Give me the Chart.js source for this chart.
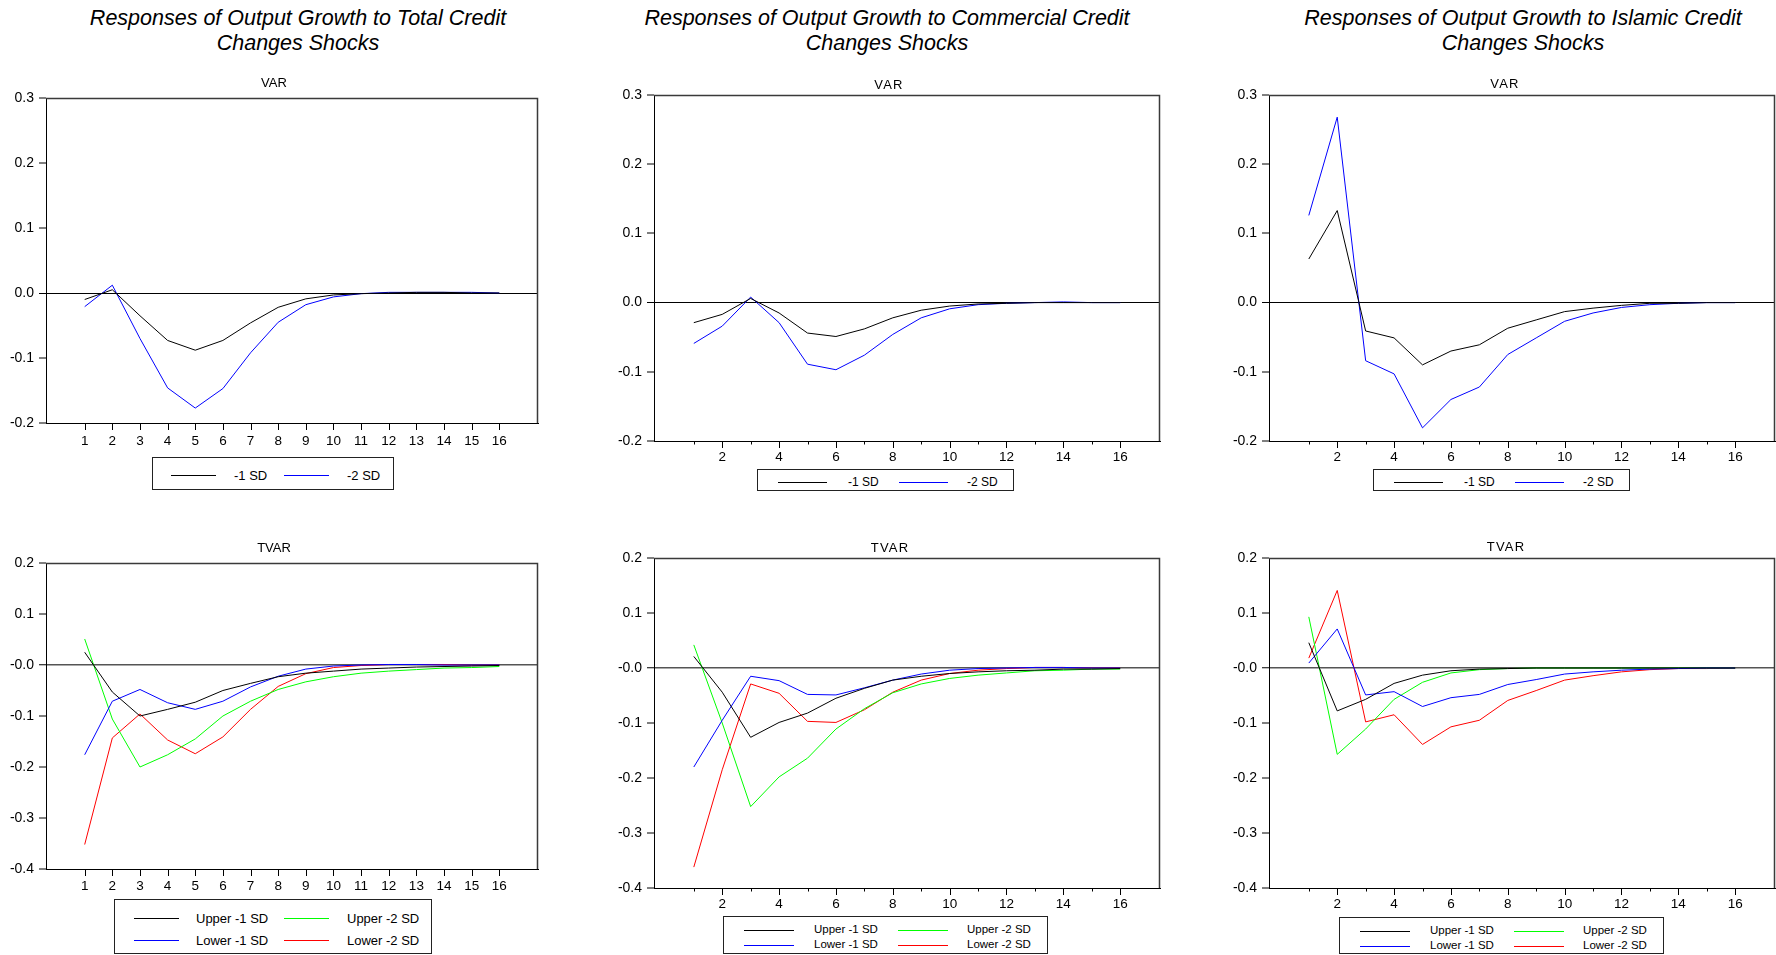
<!DOCTYPE html>
<html>
<head>
<meta charset="utf-8">
<title>Responses of Output Growth to Credit Changes Shocks</title>
<script src="https://cdn.jsdelivr.net/npm/chart.js@4.4.1/dist/chart.umd.min.js"></script>
<style>
  html, body { margin: 0; padding: 0; background: #fff; }
  body { position: relative; width: 1776px; height: 955px; overflow: hidden;
         font-family: "Liberation Sans", Arial, sans-serif; color: #000; }
  .main-title { position: absolute; width: 600px; text-align: center; font-style: italic;
                font-size: 21.5px; line-height: 25px; white-space: nowrap; }
  .sub-title { position: absolute; font-size: 13px; line-height: 15px; white-space: nowrap;
               transform: translate(-50%, -50%); }
  .legend { position: absolute; box-sizing: border-box; border: 1.5px solid #222; background: #fff; }
  .legend .sample { position: absolute; height: 0; border-top: 1px solid #000; }
  .legend .txt { position: absolute; white-space: nowrap; transform: translateY(-50%); line-height: 1; }
</style>
</head>
<body>
<script>
// ---- horizons and axis tick labels ----
const horizons = [1, 2, 3, 4, 5, 6, 7, 8, 9, 10, 11, 12, 13, 14, 15, 16];
const xTickLabelsAll  = ['1','2','3','4','5','6','7','8','9','10','11','12','13','14','15','16'];
const xTickLabelsEven = ['','2','','4','','6','','8','','10','','12','','14','','16'];

const varYTickValues  = [-0.2, -0.1, 0, 0.1, 0.2, 0.3];
const varYTickLabels  = ['-0.2', '-0.1', '0.0', '0.1', '0.2', '0.3'];
const tvarYTickValues = [-0.4, -0.3, -0.2, -0.1, 0, 0.1, 0.2];
const tvarYTickLabels = ['-0.4', '-0.3', '-0.2', '-0.1', '-0.0', '0.1', '0.2'];

// ---- panel headings ----
const columnTitles = [
  ['Responses of Output Growth to Total Credit', 'Changes Shocks'],
  ['Responses of Output Growth to Commercial Credit', 'Changes Shocks'],
  ['Responses of Output Growth to Islamic Credit', 'Changes Shocks']
];
const modelNames = ['VAR', 'TVAR'];

// ---- series labels ----
const varSeriesLabels  = ['-1 SD', '-2 SD'];
const tvarSeriesLabels = ['Upper -1 SD', 'Lower -1 SD', 'Upper -2 SD', 'Lower -2 SD'];

// ---- VAR impulse responses ----
const totalVarMinus1 = [-0.010, 0.005, -0.035, -0.073, -0.088, -0.073, -0.046, -0.022, -0.009, -0.003, -0.001, 0.000, 0.001, 0.001, 0.000, 0.000];
const totalVarMinus2 = [-0.021, 0.012, -0.070, -0.146, -0.177, -0.147, -0.092, -0.045, -0.018, -0.006, -0.001, 0.001, 0.001, 0.001, 0.001, 0.000];

const commercialVarMinus1 = [-0.029, -0.017, 0.006, -0.015, -0.044, -0.049, -0.038, -0.022, -0.011, -0.005, -0.002, -0.001, 0.000, 0.000, 0.000, 0.000];
const commercialVarMinus2 = [-0.059, -0.034, 0.008, -0.029, -0.089, -0.097, -0.076, -0.046, -0.022, -0.009, -0.003, -0.001, 0.000, 0.001, 0.000, 0.000];

const islamicVarMinus1 = [0.063, 0.133, -0.041, -0.051, -0.090, -0.070, -0.061, -0.037, -0.025, -0.013, -0.008, -0.004, -0.001, -0.001, 0.000, 0.000];
const islamicVarMinus2 = [0.126, 0.268, -0.084, -0.103, -0.181, -0.140, -0.122, -0.075, -0.051, -0.027, -0.015, -0.007, -0.003, -0.001, 0.000, 0.000];

// ---- TVAR impulse responses (upper / lower regime) ----
const totalTvarUpper1 = [0.025, -0.053, -0.100, -0.087, -0.073, -0.050, -0.036, -0.023, -0.016, -0.012, -0.008, -0.006, -0.004, -0.003, -0.002, -0.001];
const totalTvarLower1 = [-0.176, -0.071, -0.048, -0.074, -0.087, -0.071, -0.043, -0.022, -0.008, -0.002, 0.000, 0.001, 0.001, 0.000, 0.000, 0.000];
const totalTvarUpper2 = [0.051, -0.106, -0.200, -0.176, -0.145, -0.100, -0.071, -0.048, -0.033, -0.023, -0.016, -0.012, -0.009, -0.006, -0.005, -0.003];
const totalTvarLower2 = [-0.352, -0.143, -0.096, -0.147, -0.174, -0.141, -0.087, -0.042, -0.017, -0.005, -0.001, 0.001, 0.001, 0.001, 0.000, 0.000];

const commercialTvarUpper1 = [0.021, -0.044, -0.126, -0.099, -0.082, -0.055, -0.037, -0.022, -0.015, -0.010, -0.007, -0.005, -0.004, -0.002, -0.002, -0.001];
const commercialTvarLower1 = [-0.180, -0.095, -0.015, -0.023, -0.048, -0.049, -0.036, -0.022, -0.011, -0.004, -0.001, 0.000, 0.001, 0.001, 0.000, 0.000];
const commercialTvarUpper2 = [0.042, -0.100, -0.252, -0.198, -0.164, -0.111, -0.074, -0.045, -0.029, -0.019, -0.013, -0.009, -0.005, -0.004, -0.002, -0.002];
const commercialTvarLower2 = [-0.362, -0.185, -0.029, -0.046, -0.097, -0.099, -0.076, -0.044, -0.022, -0.010, -0.004, -0.001, 0.001, 0.001, 0.000, 0.000];

const islamicTvarUpper1 = [0.046, -0.078, -0.057, -0.028, -0.013, -0.005, -0.002, -0.001, 0.000, 0.000, 0.000, 0.000, 0.000, 0.000, 0.000, 0.000];
const islamicTvarLower1 = [0.009, 0.071, -0.049, -0.043, -0.070, -0.054, -0.048, -0.030, -0.021, -0.011, -0.007, -0.004, -0.002, -0.001, 0.000, 0.000];
const islamicTvarUpper2 = [0.093, -0.157, -0.111, -0.057, -0.026, -0.009, -0.003, -0.001, 0.000, 0.000, 0.000, 0.000, 0.000, 0.000, 0.000, 0.000];
const islamicTvarLower2 = [0.018, 0.141, -0.098, -0.085, -0.139, -0.107, -0.095, -0.059, -0.041, -0.022, -0.014, -0.007, -0.003, -0.001, -0.001, 0.000];

// ---- line colours ----
const varColors  = ['#000000', '#0000ff'];
const tvarColors = ['#000000', '#0000ff', '#00ff00', '#ff0000'];

// ---- page layout (plot-area edges in page pixels) ----
const FONT = '"Liberation Sans", Arial, sans-serif';

const titleCenters = [298, 887, 1523];

const legendVarWide  = { fontSize: 13, cols: [{ lineX: 18, lineW: 45, textX: 81 }, { lineX: 131, lineW: 45, textX: 194 }], rows: [17] };
const legendVarSmall = { fontSize: 12, cols: [{ lineX: 20, lineW: 49, textX: 90 }, { lineX: 141, lineW: 49, textX: 209 }], rows: [12] };
const legendTvarWide  = { fontSize: 13, cols: [{ lineX: 19, lineW: 45, textX: 81 }, { lineX: 169, lineW: 45, textX: 232 }], rows: [18, 40] };
const legendTvarSmall = { fontSize: 11.5, cols: [{ lineX: 20, lineW: 50, textX: 90 }, { lineX: 174, lineW: 50, textX: 243 }], rows: [13, 28] };

const panels = [
  { L: 46,   R: 538,  T: 98,  B: 423, model: 0, sub: { x: 274,  y: 82,  ls: 0 },
    yVals: varYTickValues, yLabels: varYTickLabels, xLabels: xTickLabelsAll, minor: false, xPad: 10,
    zero: { color: '#000', width: 1 },
    legend: Object.assign({ x: 152, y: 457, w: 242, h: 33 }, legendVarWide),
    series: [totalVarMinus1, totalVarMinus2], labels: varSeriesLabels, colors: varColors },
  { L: 654,  R: 1160, T: 95,  B: 441, model: 0, sub: { x: 889,  y: 84,  ls: 1.2 },
    yVals: varYTickValues, yLabels: varYTickLabels, xLabels: xTickLabelsEven, minor: true, xPad: 8,
    zero: { color: '#000', width: 1 },
    legend: Object.assign({ x: 757, y: 469, w: 257, h: 22 }, legendVarSmall),
    series: [commercialVarMinus1, commercialVarMinus2], labels: varSeriesLabels, colors: varColors },
  { L: 1269, R: 1775, T: 95,  B: 441, model: 0, sub: { x: 1505, y: 83,  ls: 1.2 },
    yVals: varYTickValues, yLabels: varYTickLabels, xLabels: xTickLabelsEven, minor: true, xPad: 8,
    zero: { color: '#000', width: 1 },
    legend: Object.assign({ x: 1373, y: 469, w: 257, h: 22 }, legendVarSmall),
    series: [islamicVarMinus1, islamicVarMinus2], labels: varSeriesLabels, colors: varColors },
  { L: 46,   R: 538,  T: 563, B: 869, model: 1, sub: { x: 274,  y: 547, ls: 0 },
    yVals: tvarYTickValues, yLabels: tvarYTickLabels, xLabels: xTickLabelsAll, minor: false, xPad: 9,
    zero: { color: '#555', width: 1.5 },
    legend: Object.assign({ x: 114, y: 899, w: 318, h: 55 }, legendTvarWide),
    series: [totalTvarUpper1, totalTvarLower1, totalTvarUpper2, totalTvarLower2], labels: tvarSeriesLabels, colors: tvarColors },
  { L: 654,  R: 1160, T: 558, B: 888, model: 1, sub: { x: 890,  y: 547, ls: 1.2 },
    yVals: tvarYTickValues, yLabels: tvarYTickLabels, xLabels: xTickLabelsEven, minor: true, xPad: 8,
    zero: { color: '#555', width: 1.5 },
    legend: Object.assign({ x: 723, y: 916, w: 325, h: 38 }, legendTvarSmall),
    series: [commercialTvarUpper1, commercialTvarLower1, commercialTvarUpper2, commercialTvarLower2], labels: tvarSeriesLabels, colors: tvarColors },
  { L: 1269, R: 1775, T: 558, B: 888, model: 1, sub: { x: 1506, y: 546, ls: 1.2 },
    yVals: tvarYTickValues, yLabels: tvarYTickLabels, xLabels: xTickLabelsEven, minor: true, xPad: 8,
    zero: { color: '#555', width: 1.5 },
    legend: Object.assign({ x: 1339, y: 917, w: 325, h: 37 }, legendTvarSmall),
    series: [islamicTvarUpper1, islamicTvarLower1, islamicTvarUpper2, islamicTvarLower2], labels: tvarSeriesLabels, colors: tvarColors }
];

// Closes the plot box on top/right and draws x tick marks (short ones on unlabelled horizons).
const framePlugin = {
  id: 'frame',
  afterDraw(chart, args, opts) {
    const { ctx, chartArea: a } = chart;
    const xs = chart.scales.x;
    ctx.save();
    ctx.strokeStyle = '#3a3a3a';
    ctx.lineWidth = 1.5;
    ctx.beginPath();
    ctx.moveTo(a.left, a.top + 0.5);
    ctx.lineTo(a.right - 0.5, a.top + 0.5);
    ctx.lineTo(a.right - 0.5, a.bottom);
    ctx.stroke();
    ctx.strokeStyle = '#000';
    ctx.lineWidth = 1;
    xs.ticks.forEach((t, i) => {
      const px = Math.round(xs.getPixelForValue(t.value)) + 0.5;
      const len = (opts.minor && opts.labels[i] === '') ? 3.5 : 7;
      ctx.beginPath();
      ctx.moveTo(px, a.bottom);
      ctx.lineTo(px, a.bottom + len);
      ctx.stroke();
    });
    ctx.restore();
  }
};

function makeChart(p) {
  const yW = 46, xH = 30, padT = 24, padR = 10;
  const w = (p.R - p.L) + yW + padR;
  const h = (p.B - p.T) + padT + xH;
  const canvas = document.createElement('canvas');
  canvas.width = w;
  canvas.height = h;
  canvas.style.cssText = `position:absolute;left:${p.L - yW}px;top:${p.T - padT}px;width:${w}px;height:${h}px;`;
  document.body.appendChild(canvas);

  const datasets = p.series.map((vals, k) => ({
    label: p.labels[k],
    data: horizons.map((hz, i) => ({ x: hz, y: vals[i] })),
    borderColor: p.colors[k],
    backgroundColor: p.colors[k],
    borderWidth: 1,
    pointRadius: 0,
    tension: 0,
    fill: false
  }));

  new Chart(canvas.getContext('2d'), {
    type: 'line',
    data: { datasets },
    options: {
      responsive: false,
      animation: false,
      devicePixelRatio: 1,
      events: [],
      layout: { padding: { top: padT, right: padR, left: 0, bottom: 0 } },
      plugins: {
        legend: { display: false },
        tooltip: { enabled: false },
        title: { display: false },
        frame: { minor: p.minor, labels: p.xLabels }
      },
      scales: {
        x: {
          type: 'linear',
          min: -0.4,
          max: 17.4,
          afterBuildTicks: sc => { sc.ticks = horizons.map(v => ({ value: v })); },
          afterFit: sc => { sc.height = xH; },
          grid: { display: true, drawOnChartArea: false, drawTicks: false },
          border: { display: true, color: '#000', width: 1 },
          ticks: {
            autoSkip: false, maxRotation: 0, minRotation: 0,
            padding: p.xPad, color: '#000',
            font: { family: FONT, size: 13.5 },
            callback: (v, i) => p.xLabels[i]
          }
        },
        y: {
          type: 'linear',
          min: p.yVals[0],
          max: p.yVals[p.yVals.length - 1],
          afterBuildTicks: sc => { sc.ticks = p.yVals.map(v => ({ value: v })); },
          afterFit: sc => { sc.width = yW; },
          grid: {
            drawOnChartArea: true,
            drawTicks: true,
            tickLength: 7,
            tickColor: '#000',
            tickWidth: 1,
            color: c => (c.tick && Math.abs(c.tick.value) < 1e-9) ? p.zero.color : 'rgba(0,0,0,0)',
            lineWidth: c => (c.tick && Math.abs(c.tick.value) < 1e-9) ? p.zero.width : 0
          },
          border: { display: true, color: '#000', width: 1 },
          ticks: {
            padding: 5, color: '#000',
            font: { family: FONT, size: 14 },
            callback: (v, i) => p.yLabels[i]
          }
        }
      }
    },
    plugins: [framePlugin]
  });
}

function addSubTitle(p) {
  const d = document.createElement('div');
  d.className = 'sub-title';
  d.textContent = modelNames[p.model];
  d.style.left = p.sub.x + 'px';
  d.style.top = p.sub.y + 'px';
  d.style.letterSpacing = p.sub.ls + 'px';
  document.body.appendChild(d);
}

function addLegend(p) {
  const g = p.legend;
  const box = document.createElement('div');
  box.className = 'legend';
  box.style.cssText = `left:${g.x}px;top:${g.y}px;width:${g.w}px;height:${g.h}px;font-size:${g.fontSize}px;`;
  const twoRows = g.rows.length === 2;
  p.labels.forEach((lab, i) => {
    const col = twoRows ? Math.floor(i / 2) : i;
    const row = twoRows ? i % 2 : 0;
    const c = g.cols[col];
    const y = g.rows[row];
    const s = document.createElement('div');
    s.className = 'sample';
    s.style.cssText = `left:${c.lineX}px;top:${y - 0.5}px;width:${c.lineW}px;border-top-color:${p.colors[i]};`;
    const t = document.createElement('div');
    t.className = 'txt';
    t.textContent = lab;
    t.style.left = c.textX + 'px';
    t.style.top = y + 'px';
    box.appendChild(s);
    box.appendChild(t);
  });
  document.body.appendChild(box);
}

columnTitles.forEach((lines, k) => {
  const d = document.createElement('div');
  d.className = 'main-title';
  d.style.left = (titleCenters[k] - 300) + 'px';
  d.style.top = '6px';
  d.innerHTML = lines.map(s => s.replace(/&/g, '&amp;')).join('<br>');
  document.body.appendChild(d);
});

panels.forEach(p => {
  makeChart(p);
  addSubTitle(p);
  addLegend(p);
});
</script>
</body>
</html>
